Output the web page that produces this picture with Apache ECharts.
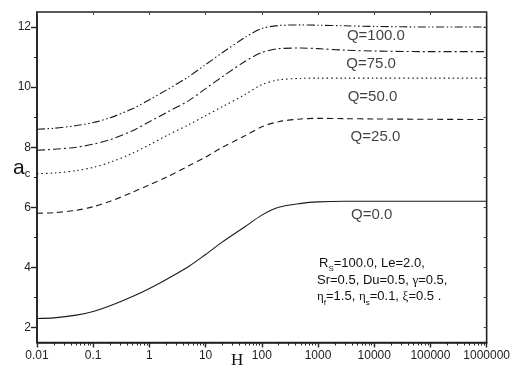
<!DOCTYPE html>
<html>
<head>
<meta charset="utf-8">
<script src="https://cdn.jsdelivr.net/npm/echarts@6/dist/echarts.min.js"></script>
<style>
  html, body { margin: 0; padding: 0; background: #fff; }
  #main { width: 513px; height: 368px; }
</style>
</head>
<body>
<div id="main"></div>
<script>
// H values (log axis) shared by all curves
const hValues = [0.01, 0.02, 0.05, 0.1, 0.2, 0.5, 1, 2, 5, 10, 20, 50, 100, 200, 500, 1000, 3000, 10000, 100000, 1000000]

// a_c, one array per Q
const q0 = [2.30, 2.32, 2.41, 2.53, 2.72, 3.03, 3.30, 3.60, 4.03, 4.43, 4.85, 5.35, 5.74, 6.00, 6.13, 6.18, 6.20, 6.20, 6.20, 6.20]
const q25 = [5.80, 5.82, 5.90, 6.02, 6.20, 6.50, 6.75, 7.00, 7.38, 7.67, 8.00, 8.38, 8.68, 8.85, 8.94, 8.96, 8.95, 8.94, 8.93, 8.92]
const q50 = [7.12, 7.14, 7.22, 7.33, 7.50, 7.80, 8.08, 8.38, 8.75, 9.05, 9.35, 9.75, 10.08, 10.24, 10.29, 10.30, 10.30, 10.30, 10.30, 10.30]
const q75 = [7.90, 7.93, 8.00, 8.10, 8.25, 8.55, 8.85, 9.15, 9.55, 9.95, 10.35, 10.85, 11.15, 11.28, 11.30, 11.28, 11.23, 11.20, 11.18, 11.18]
const q100 = [8.60, 8.63, 8.72, 8.82, 8.98, 9.28, 9.58, 9.90, 10.35, 10.75, 11.15, 11.65, 11.95, 12.05, 12.07, 12.06, 12.04, 12.02, 12.00, 12.00]

// curve labels and where they sit (data coords)
const curveNames = ['Q=0.0', 'Q=25.0', 'Q=50.0', 'Q=75.0', 'Q=100.0']
const labelH = [9000, 10500, 9300, 8800, 10700]
const labelA = [5.76, 8.36, 9.68, 10.77, 11.71]

// ticks
const xTickValues = [0.01, 0.1, 1, 10, 100, 1000, 10000, 100000, 1000000]
const xTickLabels = ['0.01', '0.1', '1', '10', '100', '1000', '10000', '100000', '1000000']
const yTickValues = [2, 4, 6, 8, 10, 12]
const yMinorValues = [3, 5, 7, 9, 11]

// parameter block
const paramLines = [
  '{t|R}{sub|S}{t|=100.0, Le=2.0,}',
  '{t|Sr=0.5, Du=0.5, }{g|γ}{t|=0.5,}',
  '{g|η}{sub|f}{t|=1.5, }{g|η}{sub|s}{t|=0.1, }{g|ξ}{t|=0.5 .}'
]

const xMinorValues = []
for (let e = -2; e < 6; e++) {
  for (let m = 2; m <= 9; m++) xMinorValues.push(Number((m * Math.pow(10, e)).toPrecision(3)))
}

const ink = '#1a1a1a'
const dashes = ['solid', [6, 4], [1.5, 3], [8, 3, 2, 3], [8, 2.5, 1.5, 2.5, 1.5, 2.5]]
const curves = [q0, q25, q50, q75, q100]

const chart = echarts.init(document.getElementById('main'), null, { renderer: 'canvas' })

const lineSeries = curves.map((vals, i) => ({
  name: curveNames[i],
  type: 'line',
  xAxisIndex: 0,
  yAxisIndex: 0,
  showSymbol: false,
  smooth: 0.3,
  data: hValues.map((h, j) => [h, vals[j]]),
  lineStyle: { color: ink, width: 1.1, type: dashes[i] },
}))

const baseLog = {
  type: 'log',
  logBase: 10,
  min: 0.01,
  max: 1000000,
  gridIndex: 0,
  splitLine: { show: false },
}
const baseVal = {
  type: 'value',
  min: 1.5,
  max: 12.5,
  gridIndex: 0,
  splitLine: { show: false },
}

const option = {
  animation: false,
  backgroundColor: '#fff',
  grid: {
    left: 37,
    right: 25.5,
    top: 12,
    bottom: 25.5,
    show: true,
    borderColor: '#222',
    borderWidth: 1.6,
  },
  xAxis: [
    {
      ...baseLog,
      position: 'bottom',
      axisLine: { show: true, lineStyle: { color: '#222', width: 1.6 } },
      axisTick: { show: true, length: 5, customValues: xTickValues, lineStyle: { color: '#222', width: 1.4 } },
      axisLabel: {
        show: true,
        customValues: xTickValues,
        margin: 7,
        fontFamily: 'Liberation Sans',
        fontSize: 12,
        color: '#222',
        formatter: v => xTickLabels[xTickValues.findIndex(t => Math.abs(t - v) / t < 1e-6)] ?? '',
      },
    },
    {
      ...baseLog,
      position: 'bottom',
      axisLine: { show: false },
      axisTick: { show: true, length: 3, customValues: xMinorValues, lineStyle: { color: '#222', width: 1 } },
      axisLabel: { show: false },
    },
    {
      ...baseLog,
      position: 'top',
      axisLine: { show: false },
      axisTick: { show: true, inside: true, length: 3, customValues: xTickValues, lineStyle: { color: '#444', width: 1 } },
      axisLabel: { show: false },
    },
  ],
  yAxis: [
    {
      ...baseVal,
      position: 'left',
      axisLine: { show: true, lineStyle: { color: '#222', width: 1.6 } },
      axisTick: { show: true, length: 6, customValues: yTickValues, lineStyle: { color: '#222', width: 1.4 } },
      axisLabel: {
        show: true,
        customValues: yTickValues,
        margin: 6,
        fontFamily: 'Liberation Sans',
        fontSize: 12,
        color: '#222',
      },
    },
    {
      ...baseVal,
      position: 'left',
      axisLine: { show: false },
      axisTick: { show: true, length: 3, customValues: yMinorValues, lineStyle: { color: '#222', width: 1 } },
      axisLabel: { show: false },
    },
    {
      ...baseVal,
      position: 'right',
      axisLine: { show: false },
      axisTick: { show: true, inside: true, length: 3, customValues: yTickValues.concat(yMinorValues), lineStyle: { color: '#444', width: 1 } },
      axisLabel: { show: false },
    },
  ],
  series: [
    ...lineSeries,
    {
      name: 'labels',
      type: 'scatter',
      xAxisIndex: 0,
      yAxisIndex: 0,
      symbolSize: 1,
      itemStyle: { color: 'rgba(0,0,0,0)' },
      data: curveNames.map((n, i) => [labelH[i], labelA[i], n]),
      label: {
        show: true,
        position: 'inside',
        formatter: p => p.data[2],
        fontFamily: 'Liberation Sans',
        fontSize: 15,
        color: '#111',
      },
    },
  ],
  graphic: [
    {
      type: 'text',
      left: 13,
      top: 158,
      style: {
        text: '{a|a}{c|c}',
        rich: {
          a: { fontFamily: 'Liberation Sans', fontSize: 21, fill: '#111', lineHeight: 22, verticalAlign: 'bottom' },
          c: { fontFamily: 'Liberation Sans', fontSize: 11, fill: '#111', lineHeight: 22, verticalAlign: 'bottom', padding: [0, 0, 0, 0] },
        },
      },
    },
    {
      type: 'text',
      left: 231,
      top: 352,
      style: { text: 'H', fontFamily: 'Liberation Serif', fontSize: 17, fill: '#111' },
    },
    {
      type: 'group',
      left: 317,
      top: 257,
      children: paramLines.map((txt, i) => ({
        type: 'text',
        x: i === 0 ? 2 : 0,
        y: i * 16.7,
        style: {
          text: txt,
          rich: {
            t: { fontFamily: 'Liberation Sans', fontSize: 13, fill: '#111', lineHeight: 18, verticalAlign: 'bottom', padding: [0, 0, 3, 0] },
            g: { fontFamily: 'Liberation Serif', fontSize: 13, fill: '#111', lineHeight: 18, verticalAlign: 'bottom', padding: [0, 0, 3, 0] },
            sub: { fontFamily: 'Liberation Sans', fontSize: 8, fill: '#111', lineHeight: 18, verticalAlign: 'bottom', padding: [0, 0, 0, 0] },
          },
        },
      })),
    },
  ],
}

chart.setOption(option)
</script>
</body>
</html>
